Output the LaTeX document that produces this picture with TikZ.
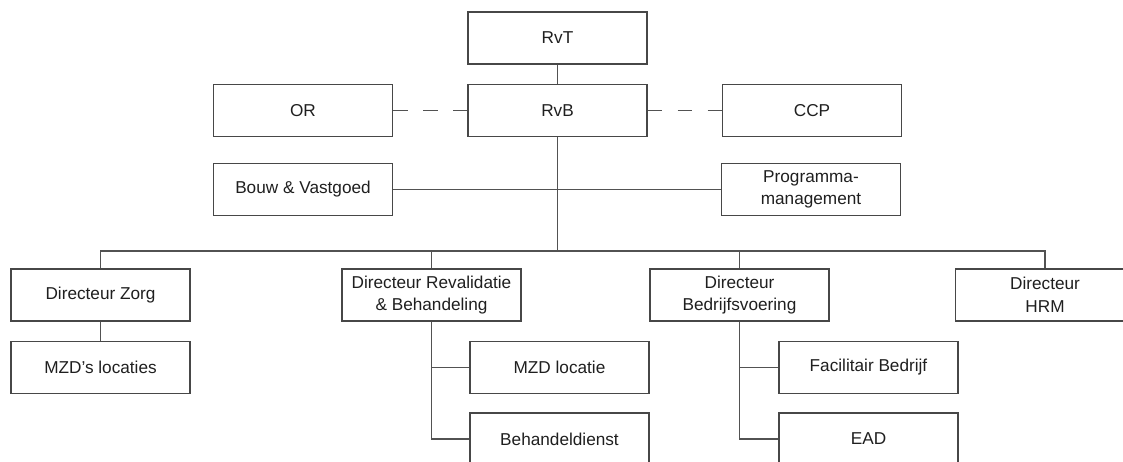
\documentclass[tikz,border=0pt]{standalone}
\usepackage{fontspec}
\setmainfont{Liberation Sans}
\begin{document}
\begin{tikzpicture}[x=1pt,y=-1pt,
  box/.style={draw=black!72, line width=1.3pt, minimum width=179pt, minimum height=52pt,
    inner sep=0pt, align=center, text=black!88,
    font=\fontsize{17.2}{22.7}\selectfont},
  conn/.style={draw=black!68, line width=1.3pt},
  dashconn/.style={conn, dash pattern=on 14.5pt off 15.5pt}]
\clip (0,0) rectangle (1123,461);
\node[box] (RvT) at (557.5,38) {RvT};
\node[box] (RvB) at (557.5,110.5) {RvB};
\node[box] (OR) at (303,110.5) {OR};
\node[box] (CCP) at (812,110.5) {CCP};
\node[box] (Bouw) at (303,189.5) {Bouw \& Vastgoed};
\node[box] (Prog) at (811,189.5) {Programma-\\management};
\node[box] (DZ) at (100.5,295) {Directeur Zorg};
\node[box] (DR) at (431.5,295) {Directeur Revalidatie\\\& Behandeling};
\node[box] (DB) at (739.5,295) {Directeur\\Bedrijfsvoering};
\node[box] (HRM) at (1045,295) {Directeur\\HRM};
\node[box] (MZDs) at (100.5,367.5) {MZD’s locaties};
\node[box] (MZDl) at (559.5,367.5) {MZD locatie};
\node[box] (Beh) at (559.5,439) {Behandeldienst};
\node[box] (Fac) at (868.5,367.5) {Facilitair Bedrijf};
\node[box] (EAD) at (868.5,439) {EAD};
\coordinate (busL) at (100.5,251);
\coordinate (busR) at (1045,251);
\draw[conn] (RvT.south) -- (RvB.north);
\draw[dashconn] (OR.east) -- (RvB.west);
\draw[dashconn] (RvB.east) -- (CCP.west);
\draw[conn] (Bouw.east) -- (Prog.west);
\draw[conn] (RvB.south) -- (RvB.south |- busL);
\draw[conn] (DZ.north) -- (busL) -- (busR) -- (HRM.north);
\draw[conn] (DR.north) -- (DR.north |- busL);
\draw[conn] (DB.north) -- (DB.north |- busL);
\draw[conn] (DZ.south) -- (MZDs.north);
\draw[conn] (DR.south) -- (DR.south |- Beh.west) -- (Beh.west);
\draw[conn] (DR.south |- MZDl.west) -- (MZDl.west);
\draw[conn] (DB.south) -- (DB.south |- EAD.west) -- (EAD.west);
\draw[conn] (DB.south |- Fac.west) -- (Fac.west);
\end{tikzpicture}
\end{document}
